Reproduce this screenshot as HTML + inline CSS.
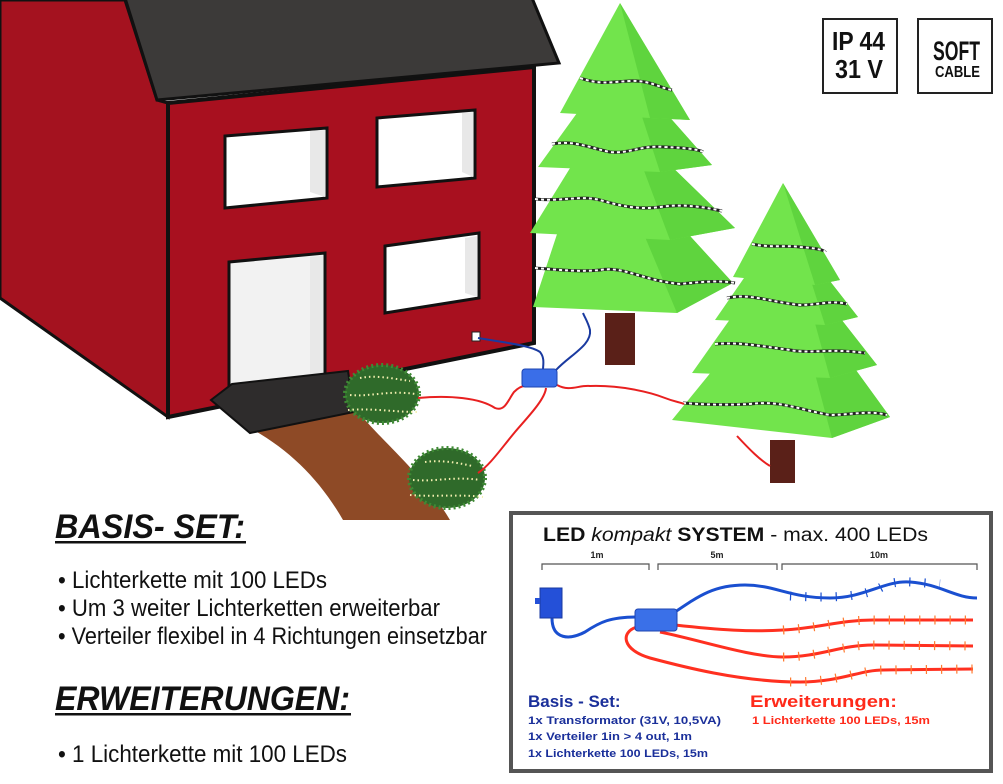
<!DOCTYPE html>
<html><head><meta charset="utf-8"><style>
html,body{margin:0;padding:0;background:#fff;}
svg{display:block;}
text{font-family:"Liberation Sans",sans-serif;}
</style></head><body>
<svg width="1003" height="784" viewBox="0 0 1003 784" xmlns="http://www.w3.org/2000/svg">
<rect width="1003" height="784" fill="#fff"/>
<!-- path -->
<path d="M250,428 L355,408 C380,440 420,470 450,520 L343,520 C320,480 290,450 250,428 Z" fill="#8e4a26"/>
<!-- house side wall -->
<polygon points="0,0 125,0 157,100 168,103 168,417 0,298" fill="#a4121f" stroke="#111" stroke-width="3"/>
<!-- front wall -->
<polygon points="168,103 534,67 534,343 168,417" fill="#a8101f" stroke="#111" stroke-width="4"/>
<!-- roof -->
<polygon points="125,-2 532,-2 559,63 157,100" fill="#3c3a39" stroke="#111" stroke-width="3"/>
<!-- windows -->
<g stroke="#111" stroke-width="3">
<polygon points="225,136 327,128 327,198 225,208" fill="#fff"/>
<polygon points="377,118 475,110 475,178 377,187" fill="#fff"/>
<polygon points="385,246 479,233 479,298 385,313" fill="#fff"/>
<polygon points="229,262 325,253 325,383 229,388" fill="#f2f2f2"/>
</g>
<g fill="#e8e8e8">
<polygon points="310,131 325,130 325,197 310,192"/>
<polygon points="462,113 473,112 473,177 462,172"/>
<polygon points="465,238 477,236 477,297 465,293"/>
<polygon points="310,257 323,256 323,381 310,381"/>
</g>
<!-- step -->
<polygon points="211,400 232,384 348,371 354,412 250,433" fill="#2e2c2c" stroke="#111" stroke-width="2"/>
<!-- outlet -->
<rect x="472" y="332" width="8" height="9" fill="#fff" stroke="#222"/>
<!-- tree1 -->
<g>
<polygon points="560,225 680,225 733,283 677,313 533,307" fill="#72e44c"/>
<polygon points="640,225 680,225 733,283 677,313" fill="#5fd43e"/>
<polygon points="575,160 665,160 735,228 670,240 530,233" fill="#72e44c"/>
<polygon points="640,160 665,160 735,228 670,240" fill="#5fd43e"/>
<polygon points="590,95 650,95 712,165 660,172 538,167" fill="#72e44c"/>
<polygon points="635,95 650,95 712,165 660,172" fill="#5fd43e"/>
<polygon points="620,3 690,120 650,118 560,113" fill="#72e44c"/>
<polygon points="620,3 690,120 650,118" fill="#5fd43e"/>
<rect x="605" y="313" width="30" height="52" fill="#5a2018"/>
</g>
<!-- tree2 -->
<g>
<polygon points="725,355 845,355 890,417 832,438 672,420" fill="#72e44c"/>
<polygon points="810,355 845,355 890,417 832,438" fill="#5fd43e"/>
<polygon points="740,305 830,305 877,365 830,378 692,373" fill="#72e44c"/>
<polygon points="810,305 830,305 877,365 830,378" fill="#5fd43e"/>
<polygon points="755,262 815,262 858,317 825,325 715,320" fill="#72e44c"/>
<polygon points="805,262 815,262 858,317 825,325" fill="#5fd43e"/>
<polygon points="783,183 840,280 815,285 733,277" fill="#72e44c"/>
<polygon points="783,183 840,280 815,285" fill="#5fd43e"/>
<rect x="770" y="440" width="25" height="43" fill="#5a2018"/>
</g>
<!-- tree lights -->
<g fill="none">
<g stroke="#222" stroke-width="3">
<path d="M580,78 C600,85 610,82 630,81 C650,80 660,88 672,90"/>
<path d="M552,144 C575,140 590,148 610,152 C630,154 640,145 665,147 C690,148 700,150 703,152"/>
<path d="M535,199 C560,202 580,195 600,200 C620,206 640,210 660,207 C680,204 700,206 722,211"/>
<path d="M535,268 C560,270 580,272 600,270 C625,266 640,280 680,284 C700,282 720,280 735,283"/>
<path d="M752,244 C770,248 785,245 800,247 C815,248 825,250 825,252"/>
<path d="M727,298 C750,293 770,302 800,305 C820,305 830,300 847,304"/>
<path d="M715,344 C740,342 760,346 790,350 C810,354 830,348 865,353"/>
<path d="M683,403 C710,405 730,405 750,404 C780,400 800,410 830,415 C850,415 870,410 887,415"/>
</g>
<g stroke="#fff" stroke-width="2" stroke-dasharray="3 3">
<path d="M580,78 C600,85 610,82 630,81 C650,80 660,88 672,90"/>
<path d="M552,144 C575,140 590,148 610,152 C630,154 640,145 665,147 C690,148 700,150 703,152"/>
<path d="M535,199 C560,202 580,195 600,200 C620,206 640,210 660,207 C680,204 700,206 722,211"/>
<path d="M535,268 C560,270 580,272 600,270 C625,266 640,280 680,284 C700,282 720,280 735,283"/>
<path d="M752,244 C770,248 785,245 800,247 C815,248 825,250 825,252"/>
<path d="M727,298 C750,293 770,302 800,305 C820,305 830,300 847,304"/>
<path d="M715,344 C740,342 760,346 790,350 C810,354 830,348 865,353"/>
<path d="M683,403 C710,405 730,405 750,404 C780,400 800,410 830,415 C850,415 870,410 887,415"/>
</g>
</g>
<!-- shrubs -->
<g>
<ellipse cx="382" cy="394" rx="37" ry="29" fill="#2f6a2a" stroke="#3f8a35" stroke-width="4" stroke-dasharray="2 3"/>
<ellipse cx="447" cy="478" rx="38" ry="30" fill="#2f6a2a" stroke="#3f8a35" stroke-width="4" stroke-dasharray="2 3"/>
<g fill="none" stroke="#f4f0b0" stroke-width="2" stroke-dasharray="1.5 3">
<path d="M360,378 C375,375 390,378 410,381"/><path d="M350,395 C370,397 390,390 415,394"/><path d="M348,410 C370,408 395,412 418,412"/>
<path d="M425,462 C440,460 455,462 472,466"/><path d="M413,480 C435,482 455,476 480,480"/><path d="M410,495 C435,497 460,494 483,497"/>
</g>
</g>
<!-- cables -->
<g fill="none" stroke-width="2">
<path d="M478,338 C500,342 530,345 540,352 C545,358 543,365 543,370" stroke="#1a3aa0"/>
<path d="M556,370 C570,355 592,345 590,330 C588,322 585,318 583,313" stroke="#1a3aa0"/>
<path d="M418,398 C450,395 480,398 495,408 C505,412 508,400 514,392 C518,388 522,386 525,386" stroke="#e82020"/>
<path d="M546,388 C545,400 525,420 515,432 C500,450 490,465 478,473" stroke="#e82020"/>
<path d="M557,385 C570,392 578,385 590,386 C620,385 650,392 665,398 C675,402 680,402 684,404" stroke="#e82020"/>
<path d="M737,436 C750,450 760,460 770,466" stroke="#e82020"/>
</g>
<rect x="522" y="369" width="35" height="18" rx="3" fill="#3a6ee8" stroke="#1e44b0"/>
<!-- badges -->
<rect x="823" y="19" width="74" height="74" fill="#fff" stroke="#222" stroke-width="2"/>
<rect x="918" y="19" width="74" height="74" fill="#fff" stroke="#222" stroke-width="2"/>
<g font-weight="bold" fill="#111">
<text x="832" y="50" font-size="26" textLength="53" lengthAdjust="spacingAndGlyphs">IP 44</text>
<text x="835" y="78" font-size="26" textLength="48" lengthAdjust="spacingAndGlyphs">31 V</text>
<text x="933" y="60" font-size="27" textLength="47" lengthAdjust="spacingAndGlyphs">SOFT</text>
<text x="935" y="77" font-size="16" textLength="45" lengthAdjust="spacingAndGlyphs">CABLE</text>
</g>
<!-- left texts -->
<g fill="#111">
<text x="55" y="538" font-size="34" font-weight="bold" font-style="italic" textLength="190" lengthAdjust="spacingAndGlyphs">BASIS- SET:</text>
<rect x="55" y="541" width="191" height="2.5"/>
<text x="58" y="588" font-size="24" textLength="269" lengthAdjust="spacingAndGlyphs">• Lichterkette mit 100 LEDs</text>
<text x="58" y="616" font-size="24" textLength="382" lengthAdjust="spacingAndGlyphs">• Um 3 weiter Lichterketten erweiterbar</text>
<text x="58" y="644" font-size="24" textLength="429" lengthAdjust="spacingAndGlyphs">• Verteiler flexibel in 4 Richtungen einsetzbar</text>
<text x="55" y="710" font-size="34" font-weight="bold" font-style="italic" textLength="295" lengthAdjust="spacingAndGlyphs">ERWEITERUNGEN:</text>
<rect x="55" y="713" width="296" height="2.5"/>
<text x="58" y="762" font-size="24" textLength="289" lengthAdjust="spacingAndGlyphs">• 1 Lichterkette mit 100 LEDs</text>
</g>
<!-- system box -->
<rect x="511" y="513" width="480" height="258" fill="#fff" stroke="#555" stroke-width="4"/>
<text x="543" y="541" font-size="19" fill="#111" textLength="385" lengthAdjust="spacingAndGlyphs"><tspan font-weight="bold">LED</tspan> <tspan font-style="italic">kompakt</tspan> <tspan font-weight="bold">SYSTEM</tspan> - max. 400 LEDs</text>
<g font-size="9" font-weight="bold" fill="#222" text-anchor="middle">
<text x="597" y="558">1m</text><text x="717" y="558">5m</text><text x="879" y="558">10m</text>
</g>
<g fill="none" stroke="#555" stroke-width="1.2">
<path d="M542,570 V564 H649 V570"/><path d="M658,570 V564 H777 V570"/><path d="M782,570 V564 H977 V570"/>
</g>
<!-- box cables -->
<g fill="none" stroke-width="3">
<path d="M552,618 C552,640 570,640 585,632 C600,622 610,617 638,617" stroke="#1a4fd0"/>
<path d="M675,612 C700,595 715,585 745,585 C775,585 790,598 830,598 C865,598 885,580 910,582 C940,584 955,598 977,598" stroke="#1a4fd0"/>
<path d="M675,625 C720,630 750,632 783,630 C820,628 840,620 873,620 L973,620" stroke="#ff3020"/>
<path d="M660,632 C700,640 750,657 783,657 C820,657 840,645 873,645 L973,646" stroke="#ff3020"/>
<path d="M637,627 C620,632 622,650 650,658 C680,666 740,682 800,682 C840,682 860,670 883,670 L973,669" stroke="#ff3020"/>
</g>
<g fill="none" stroke-width="9" stroke-dasharray="1.2 14">
<path d="M790,596 C830,598 865,598 885,585 C900,580 910,582 940,584 C955,598 977,598" stroke="#1a4fd0"/>
<path d="M783,630 C820,628 840,620 873,620 L973,620" stroke="#ff7a30"/>
<path d="M783,657 C820,657 840,645 873,645 L973,646" stroke="#ff7a30"/>
<path d="M790,682 C840,682 860,670 883,670 L973,669" stroke="#ff7a30"/>
</g>
<rect x="540" y="588" width="22" height="30" fill="#2450d8" stroke="#1a3aa0"/>
<rect x="535" y="598" width="5" height="6" fill="#2450d8"/>
<rect x="635" y="609" width="42" height="22" rx="3" fill="#3a70e8" stroke="#1e44b0"/>
<g font-weight="bold">
<text x="528" y="707" font-size="17" fill="#1a2f9a">Basis - Set:</text>
<text x="528" y="724" font-size="11" fill="#1a2f9a" textLength="193" lengthAdjust="spacingAndGlyphs">1x Transformator (31V, 10,5VA)</text>
<text x="528" y="740" font-size="11" fill="#1a2f9a" textLength="164" lengthAdjust="spacingAndGlyphs">1x Verteiler 1in &gt; 4 out, 1m</text>
<text x="528" y="757" font-size="11" fill="#1a2f9a" textLength="180" lengthAdjust="spacingAndGlyphs">1x Lichterkette 100 LEDs, 15m</text>
<text x="750" y="707" font-size="17" fill="#ff2a1a" textLength="147" lengthAdjust="spacingAndGlyphs">Erweiterungen:</text>
<text x="752" y="724" font-size="11" fill="#ff2a1a" textLength="178" lengthAdjust="spacingAndGlyphs">1 Lichterkette 100 LEDs, 15m</text>
</g>
</svg>
</body></html>
